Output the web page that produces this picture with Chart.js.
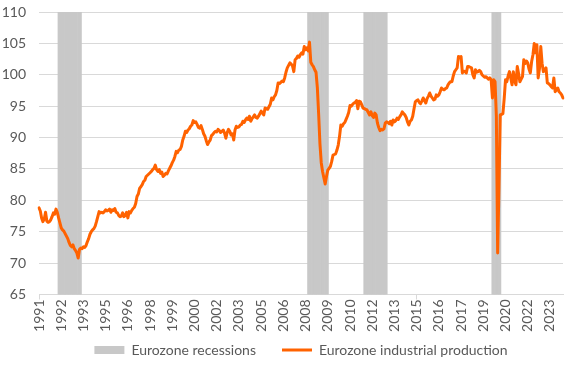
<!DOCTYPE html>
<html>
<head>
<meta charset="utf-8">
<script src="https://cdn.jsdelivr.net/npm/chart.js@4.4.1/dist/chart.umd.min.js"></script>
<style>
  html, body { margin: 0; padding: 0; background: #fff; }
  #wrap { width: 577px; height: 366px; }
</style>
</head>
<body>
<div id="wrap"><canvas id="ipChart" width="577" height="366"></canvas></div>
<script>
// ----------------------------------------------------
// Data: Eurozone industrial production, monthly, Jan 1991 - Jun 2024
// ----------------------------------------------------
const production = [
  78.8, 78.3, 77.2, 76.6, 77.0, 78.1, 76.7, 76.5, 76.6, 76.9, 77.4, 78.0,   // 1991
  77.8, 78.6, 78.1, 77.2, 76.4, 75.6, 75.3, 75.1, 74.7, 74.3, 73.9, 73.3,   // 1992
  72.8, 72.6, 72.9, 72.3, 72.0, 71.6, 70.8, 72.2, 72.4, 72.3, 72.6, 72.5,   // 1993
  72.8, 73.4, 73.9, 74.6, 75.0, 75.3, 75.5, 75.9, 76.6, 77.4, 78.2, 78.0,   // 1994
  78.1, 78.0, 78.2, 78.5, 78.3, 78.4, 78.6, 78.1, 78.5, 78.4, 78.7, 78.1,   // 1995
  78.0, 77.6, 77.4, 77.5, 78.0, 77.4, 77.6, 78.1, 77.2, 78.2, 78.0, 78.4,   // 1996
  78.7, 78.9, 79.5, 80.6, 81.0, 81.9, 82.2, 82.5, 83.0, 83.2, 83.8, 84.0,   // 1997
  84.2, 84.4, 84.6, 84.9, 85.1, 85.6, 84.9, 84.6, 84.9, 84.3, 84.5, 83.8,   // 1998
  84.0, 84.3, 84.2, 84.7, 85.1, 85.5, 86.0, 86.4, 87.0, 87.8, 87.6, 88.0,   // 1999
  88.1, 88.6, 89.6, 90.2, 91.0, 90.8, 91.2, 91.4, 91.8, 92.0, 92.7, 92.4,   // 2000
  92.5, 92.1, 91.6, 91.5, 91.9, 91.3, 90.6, 90.2, 89.5, 88.9, 89.3, 89.6,   // 2001
  90.3, 90.5, 90.8, 91.0, 90.9, 91.3, 91.1, 90.8, 91.0, 91.2, 90.7, 89.9,   // 2002
  90.8, 91.3, 91.0, 90.4, 90.6, 89.6, 91.2, 91.8, 91.6, 91.7, 92.0, 92.1,   // 2003
  92.6, 92.4, 92.8, 93.1, 92.9, 93.4, 92.6, 93.0, 93.3, 93.6, 93.2, 93.1,   // 2004
  93.4, 93.8, 94.2, 93.9, 93.6, 94.7, 94.6, 94.5, 94.9, 95.3, 96.3, 96.0,   // 2005
  96.5, 96.8, 97.5, 98.7, 98.6, 98.8, 99.0, 98.9, 99.5, 100.4, 101.1, 101.5, // 2006
  101.9, 101.7, 101.4, 100.5, 102.4, 102.6, 103.0, 102.8, 103.2, 103.5, 103.3, 104.5, // 2007
  104.0, 104.3, 103.8, 105.2, 102.0, 101.6, 101.3, 100.8, 100.4, 98.0, 93.8, 89.0, // 2008
  86.0, 84.6, 83.6, 82.6, 83.8, 84.8, 85.1, 85.4, 86.2, 87.2, 87.3, 87.4,   // 2009
  88.0, 88.8, 90.2, 92.0, 91.8, 92.2, 92.4, 92.9, 93.4, 94.0, 95.1, 95.0,   // 2010
  95.3, 95.5, 95.6, 95.9, 94.6, 95.8, 95.7, 95.2, 94.7, 94.6, 94.5, 94.4,   // 2011
  94.0, 93.6, 94.1, 93.5, 93.2, 93.9, 93.6, 92.3, 91.6, 91.1, 91.3, 91.2,   // 2012
  91.4, 92.3, 92.5, 92.4, 92.2, 92.6, 92.0, 92.8, 92.5, 92.7, 93.1, 92.9,   // 2013
  93.3, 93.6, 94.1, 93.8, 93.6, 93.2, 92.5, 92.0, 92.6, 92.8, 93.4, 94.6,   // 2014
  95.7, 95.9, 96.0, 95.6, 95.4, 95.8, 96.3, 95.9, 95.5, 96.2, 96.6, 97.1,   // 2015
  96.6, 96.3, 96.0, 96.1, 96.8, 96.6, 96.8, 97.3, 97.9, 97.7, 97.6, 97.8,   // 2016
  97.9, 98.4, 98.7, 98.9, 98.9, 99.8, 100.5, 100.8, 101.1, 102.9, 102.8, 102.9, // 2017
  100.3, 100.6, 100.5, 100.3, 101.3, 101.3, 101.2, 101.1, 100.0, 99.5, 100.8, 100.4, // 2018
  100.5, 100.7, 100.5, 100.0, 99.8, 99.6, 99.7, 99.5, 99.3, 99.5, 99.2, 96.3, // 2019
  99.2, 98.9, 93.4, 71.6, 82.2, 93.6, 93.7, 93.8, 96.2, 99.2, 98.9, 99.8,   // 2020
  100.5, 99.5, 98.4, 100.5, 99.0, 98.4, 101.3, 100.2, 98.9, 99.3, 99.7, 102.4, // 2021
  101.8, 102.2, 101.9, 100.9, 100.3, 102.1, 103.2, 105.0, 103.5, 104.8, 99.5, 101.0, // 2022
  104.5, 101.8, 100.5, 100.8, 101.1, 98.7, 98.6, 98.4, 98.1, 97.9, 99.5, 97.3, // 2023
  97.6, 97.9, 97.3, 97.1, 96.8, 96.3                                          // 2024
];

// recession periods (first and last month shaded)
const recessions = [
  ["1992-04", "1993-09"],
  ["2008-03", "2009-06"],
  ["2011-10", "2013-03"],
  ["2019-12", "2020-06"]
];

// labels shown on the category axis, one every 17 months
const tickYears = ["1991", "1992", "1993", "1995", "1996", "1998", "1999", "2000",
  "2002", "2003", "2005", "2006", "2008", "2009", "2010", "2012", "2013", "2015",
  "2016", "2017", "2019", "2020", "2022", "2023"];
const TICK_STEP = 17;

const RECESSION_TOP = 110;
const ORANGE = "#FF6200";
const GREY_BAR = "#C8C8C8";
const GRID = "#D9D9D9";
const TEXT = "#595959";

// ----------------------------------------------------
// Build categories (YYYY-MM) and recession column values
// ----------------------------------------------------
const months = production.map((_, i) => {
  const y = 1991 + Math.floor(i / 12);
  const m = (i % 12) + 1;
  return y + "-" + (m < 10 ? "0" + m : m);
});

const recessionBars = months.map(m =>
  recessions.some(r => m >= r[0] && m <= r[1]) ? RECESSION_TOP : null
);

// legend: small box in the layout, then drawn a bit higher (wide item spacing
// comes from labels.padding, which would otherwise push the legend down)
const legendPlace = {
  id: "legendPlace",
  beforeLayout(chart) {
    const lg = chart.legend;
    if (!lg || lg._fixedFit) return;
    const fit = lg.fit;
    lg.fit = function () { fit.call(this); this.height = 29; };
    lg._fixedFit = true;
  },
  afterLayout(chart) {
    const lg = chart.legend;
    if (lg) lg.top = lg.bottom - 49;
  }
};

Chart.defaults.font.family = "Lato, 'Open Sans', sans-serif";
Chart.defaults.color = TEXT;

new Chart(document.getElementById("ipChart").getContext("2d"), {
  type: "line",
  data: {
    labels: months,
    datasets: [
      {
        type: "bar",
        label: "Eurozone recessions",
        data: recessionBars,
        backgroundColor: GREY_BAR,
        borderWidth: 0,
        barPercentage: 1,
        categoryPercentage: 1,
        order: 2
      },
      {
        type: "line",
        label: "Eurozone industrial production",
        data: production,
        borderColor: ORANGE,
        borderWidth: 3,
        borderJoinStyle: "round",
        borderCapStyle: "round",
        pointRadius: 0,
        tension: 0,
        order: 1
      }
    ]
  },
  plugins: [legendPlace],
  options: {
    responsive: false,
    animation: false,
    devicePixelRatio: 1,
    layout: { padding: { top: 12, right: 14, left: 0, bottom: 0 } },
    plugins: {
      tooltip: { enabled: false },
      legend: {
        display: true,
        position: "bottom",
        fullSize: false,
        labels: {
          usePointStyle: true,
          pointStyleWidth: 30,
          boxHeight: 8,
          padding: 26,
          color: TEXT,
          font: { size: 14 },
          generateLabels: () => [
            { text: "Eurozone recessions", fillStyle: GREY_BAR, strokeStyle: GREY_BAR,
              lineWidth: 0, pointStyle: "rect", datasetIndex: 0, hidden: false, fontColor: TEXT },
            { text: "Eurozone industrial production", fillStyle: ORANGE, strokeStyle: ORANGE,
              lineWidth: 3, lineCap: "butt", pointStyle: "line", datasetIndex: 1, hidden: false, fontColor: TEXT }
          ]
        }
      }
    },
    scales: {
      x: {
        offset: false,
        afterFit: s => { s.height = 42.5; s.paddingLeft = 0; s.paddingRight = 0; },
        grid: {
          offset: false,
          drawOnChartArea: false,
          drawTicks: true,
          tickLength: 5,
          color: ctx => (ctx.index % TICK_STEP === 0 ? GRID : "rgba(0,0,0,0)")
        },
        border: { display: true, color: GRID },
        ticks: {
          autoSkip: false,
          minRotation: 90,
          maxRotation: 90,
          padding: 0,
          font: { size: 14 },
          callback: (v, i) => (i % TICK_STEP === 0 ? tickYears[i / TICK_STEP] : null)
        }
      },
      y: {
        min: 65,
        max: 110,
        afterFit: s => { s.width = 39; s.paddingTop = 0; s.paddingBottom = 0; },
        grid: { color: GRID, drawTicks: false },
        border: { display: false },
        ticks: { stepSize: 5, padding: 13, font: { size: 14 } }
      }
    }
  }
});
</script>
</body>
</html>
